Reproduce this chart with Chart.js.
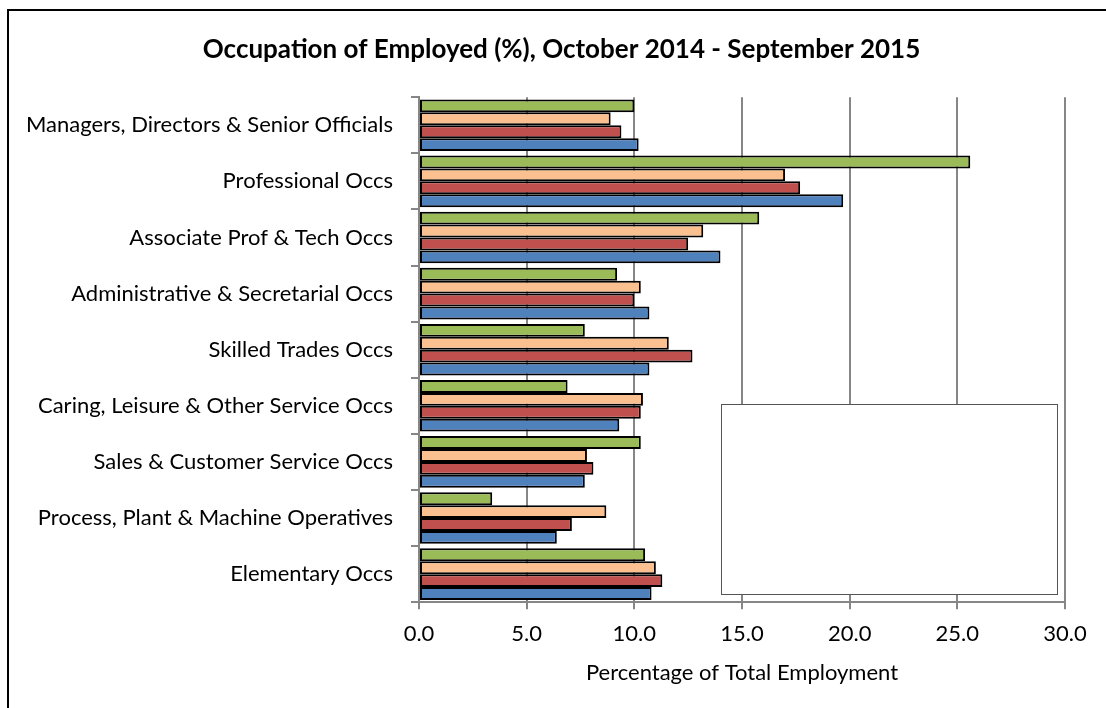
<!DOCTYPE html>
<html>
<head>
<meta charset="utf-8">
<script src="https://cdn.jsdelivr.net/npm/chart.js@4"></script>
<style>
  html, body { margin: 0; padding: 0; background: #fff; overflow: hidden; }
  #frame { position: absolute; left: 7px; top: 9px; width: 1200px; height: 800px; border: 2px solid #000; }
  #occChart { position: absolute; left: 0; top: 0; }
</style>
</head>
<body>
<div id="frame"></div>
<canvas id="occChart" width="1106" height="708"></canvas>
<script>
const categories = [
    'Managers, Directors & Senior Officials',
    'Professional Occs',
    'Associate Prof & Tech Occs',
    'Administrative & Secretarial Occs',
    'Skilled Trades Occs',
    'Caring, Leisure & Other Service Occs',
    'Sales & Customer Service Occs',
    'Process, Plant & Machine Operatives',
    'Elementary Occs'
];
const seriesNames = ['Series 1', 'Series 2', 'Series 3', 'Series 4'];
const blueValues = [10.2, 19.7, 14.0, 10.7, 10.7, 9.3, 7.7, 6.4, 10.8];
const redValues = [9.4, 17.7, 12.5, 10.0, 12.7, 10.3, 8.1, 7.1, 11.3];
const orangeValues = [8.9, 17.0, 13.2, 10.3, 11.6, 10.4, 7.8, 8.7, 11.0];
const greenValues = [10.0, 25.6, 15.8, 9.2, 7.7, 6.9, 10.3, 3.4, 10.5];
const xMin = 0, xMax = 30, xStep = 5;

const FONT = 'Lato';
const GRID = '#868686';

// title in the original sits a bit right of the plot centre
const titleShift = {
    id: 'titleShift',
    afterLayout(chart) {
        if (chart.titleBlock) chart.titleBlock.left = 58;
    }
};

// empty legend box as in the original
const legendBox = {
    id: 'legendBox',
    afterDatasetsDraw(chart) {
        const ctx = chart.ctx;
        ctx.save();
        ctx.fillStyle = '#fff';
        ctx.strokeStyle = '#555';
        ctx.lineWidth = 1;
        ctx.fillRect(721, 404, 336, 190);
        ctx.strokeRect(721.5, 404.5, 336, 190);
        ctx.restore();
    }
};

function bar(label, values, color) {
    return {
        label: label,
        data: values,
        backgroundColor: color,
        borderColor: '#000',
        borderWidth: 2,
        borderSkipped: false,
        categoryPercentage: 0.92,
        barPercentage: 1.0
    };
}

new Chart(document.getElementById('occChart'), {
    type: 'bar',
    data: {
        labels: categories,
        datasets: [
            bar(seriesNames[3], greenValues, '#9BBB59'),
            bar(seriesNames[2], orangeValues, '#FAC090'),
            bar(seriesNames[1], redValues, '#C0504D'),
            bar(seriesNames[0], blueValues, '#4F81BD')
        ]
    },
    options: {
        indexAxis: 'y',
        responsive: false,
        animation: false,
        layout: { padding: { left: 0, right: 41, top: 0, bottom: 22 } },
        plugins: {
            legend: { display: false },
            tooltip: { enabled: false },
            title: {
                display: true,
                text: 'Occupation of Employed (%), October 2014 - September 2015',
                color: '#000',
                font: { family: FONT, size: 26, weight: 'bold' },
                padding: { top: 34, bottom: 32 }
            }
        },
        scales: {
            x: {
                min: xMin,
                max: xMax,
                ticks: {
                    stepSize: xStep,
                    color: '#000',
                    font: { family: FONT, size: 22 },
                    padding: 12,
                    callback: v => v.toFixed(1)
                },
                grid: { color: GRID, lineWidth: 2, tickLength: 7 },
                border: { color: GRID, width: 2 },
                title: {
                    display: true,
                    text: 'Percentage of Total Employment',
                    color: '#000',
                    font: { family: FONT, size: 22 },
                    padding: { top: 0, bottom: 0 }
                }
            },
            y: {
                ticks: {
                    color: '#000',
                    font: { family: FONT, size: 22 },
                    padding: 18
                },
                grid: { color: GRID, lineWidth: 2, drawOnChartArea: false, tickLength: 8, offset: true },
                border: { color: GRID, width: 2 },
                afterFit(scale) { scale.width = 419; }
            }
        }
    },
    plugins: [titleShift, legendBox]
});
</script>
</body>
</html>
